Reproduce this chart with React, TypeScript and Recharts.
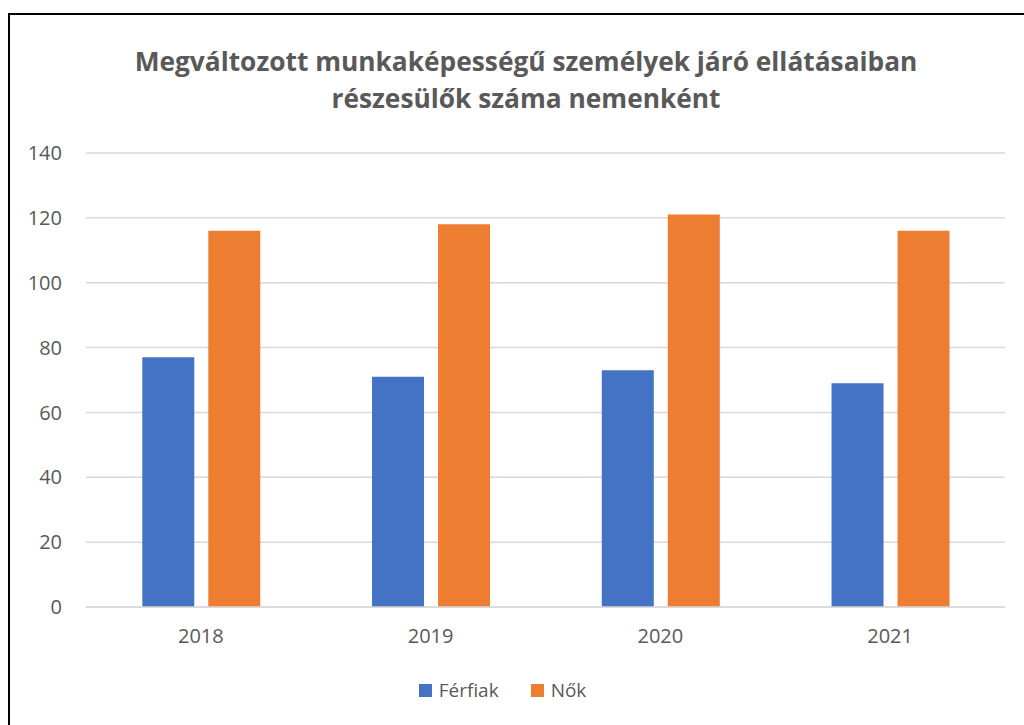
import React from 'react';
import { BarChart, Bar, XAxis, YAxis, CartesianGrid, Legend } from 'recharts';

const years = ['2018', '2019', '2020', '2021'];
const ferfiak = [77, 71, 73, 69];
const nok = [116, 118, 121, 116];
const yTicks = [0, 20, 40, 60, 80, 100, 120, 140];
const seriesNames = ['Férfiak', 'Nők'];
const colors = ['#4472C4', '#ED7D31'];

const data = years.map((y, i) => ({ year: y, ferfiak: ferfiak[i], nok: nok[i] }));

const FONT = '"Open Sans", "Noto Sans", sans-serif';
const GRAY = '#595959';

const renderLegend = () => (
  <div style={{ display: 'flex', justifyContent: 'center', alignItems: 'center', height: 24, fontFamily: FONT, fontSize: 19, color: GRAY }}>
    {seriesNames.map((n, i) => (
      <div key={n} style={{ display: 'flex', alignItems: 'center', marginLeft: i === 0 ? 0 : 32 }}>
        <span style={{ display: 'inline-block', width: 13, height: 13, background: colors[i], marginRight: 7 }} />
        <span>{n}</span>
      </div>
    ))}
  </div>
);

export default function App() {
  return (
    <div style={{ position: 'fixed', left: 0, top: 0, width: 1024, height: 725, overflow: 'hidden', background: '#fff' }}>
      <div style={{ position: 'absolute', left: 8, top: 13, width: 1100, height: 800, border: '2px solid #000', boxSizing: 'border-box' }} />
      <div style={{ position: 'absolute', left: 0, top: 43, width: 1052, textAlign: 'center', fontFamily: FONT, fontWeight: 700, fontSize: 26.3, lineHeight: '37px', color: GRAY }}>
        Megváltozott munkaképességű személyek járó ellátásaiban<br />részesülők száma nemenként
      </div>
      <div style={{ position: 'absolute', left: 0, top: 0 }}>
        <BarChart width={1024} height={725} data={data} margin={{ top: 153, right: 19, left: 0, bottom: 20 }} barGap={14} barCategoryGap="24.5%">
          <CartesianGrid vertical={false} stroke="#D9D9D9" strokeWidth={1.5} />
          <XAxis dataKey="year" axisLine={{ stroke: '#D9D9D9', strokeWidth: 1.5 }} tickLine={false} tickSize={6} tickMargin={16} height={74}
            tick={{ fill: GRAY, fontSize: 20, fontFamily: FONT }} />
          <YAxis domain={[0, 140]} ticks={yTicks} axisLine={false} tickLine={false} tickSize={6} tickMargin={18} width={86}
            tick={{ fill: GRAY, fontSize: 20, fontFamily: FONT }} />
          <Legend verticalAlign="bottom" content={renderLegend} wrapperStyle={{ bottom: 23 }} />
          <Bar dataKey="ferfiak" name={seriesNames[0]} fill={colors[0]} isAnimationActive={false} />
          <Bar dataKey="nok" name={seriesNames[1]} fill={colors[1]} isAnimationActive={false} />
        </BarChart>
      </div>
    </div>
  );
}
